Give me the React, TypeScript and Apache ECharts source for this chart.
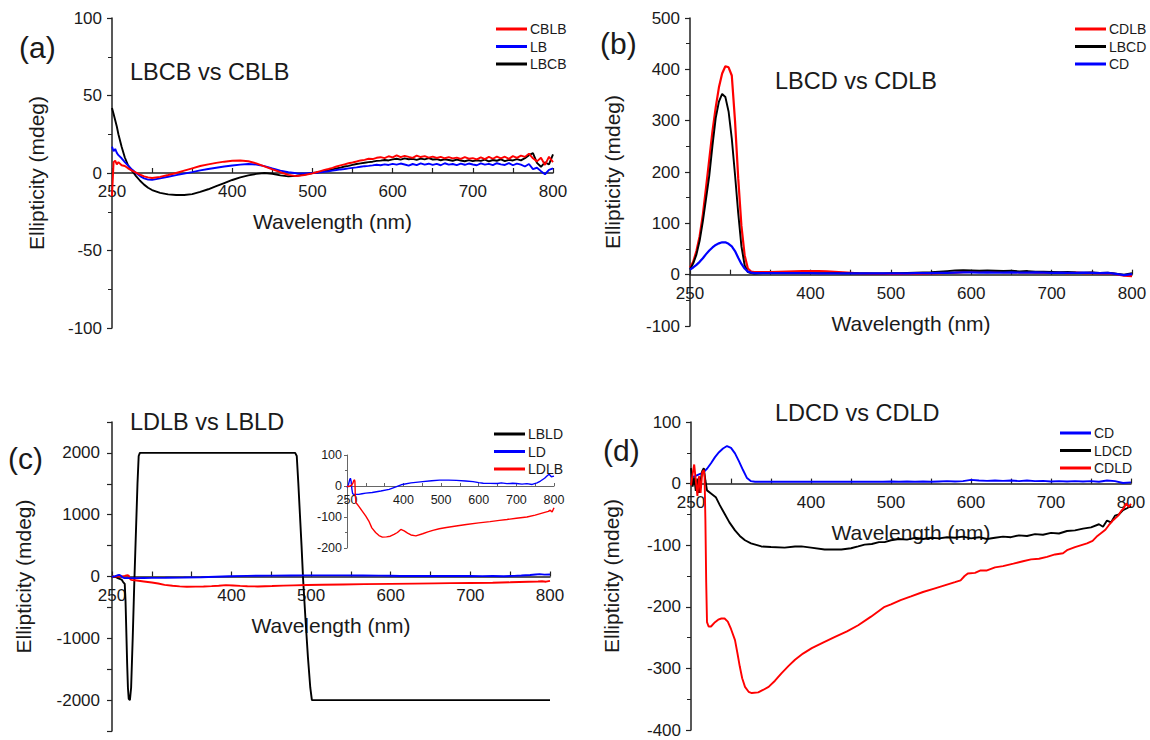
import React, { useEffect, useRef } from "react";
import * as echarts from "echarts";

// ---------- Panel (a): LBCB vs CBLB ----------
const wlA = [250, 252, 254, 256, 258, 262, 266, 270, 275, 280, 285, 290, 295, 300, 310, 320, 330, 340, 350, 360, 370, 380, 390, 400, 410, 420, 430, 440, 450, 460, 470, 480, 490, 500,
  505, 510, 515, 520, 525, 530, 535, 540, 545, 550, 555, 560, 565, 570, 575, 580, 585, 590, 595, 600, 605, 610, 615, 620, 625, 630, 635, 640, 645, 650,
  655, 660, 665, 670, 675, 680, 685, 690, 695, 700, 705, 710, 715, 720, 725, 730, 735, 740, 745, 750, 755, 760, 765, 770, 775, 780, 785, 790, 795, 800];
const cblbA = [-15, 7, 8, 5.5, 7, 5, 4.5, 3, 1.5, 0.3, -1, -2.2, -2.8, -3.2, -2.5, -1.3, 0, 1.5, 3, 4.5, 5.6, 6.5, 7.3, 7.9, 8.1, 7.6, 6.2, 4.3, 2.3, 0.5, -1.2, -2, -1.3, -0.2,
  0.5, 1.2, 2, 2.6, 3.3, 4.2, 4.9, 5.6, 6.3, 6.8, 7.4, 8.1, 8.5, 9.2, 9.0, 9.8, 10.2, 9.6, 10.8, 10.1, 11.4, 10.2, 11.1, 10.4, 9.8, 11.2, 10.3, 10.9, 9.9, 10.6,
  9.7, 10.4, 9.5, 10.2, 9.4, 9.9, 9.1, 10.3, 9.2, 9.6, 8.8, 10.1, 9.0, 10.4, 9.2, 10.6, 9.4, 10.5, 9.1, 10.9, 9.8, 11.2, 10.4, 12.5, 9.5, 7.5, 9.8, 5.2, 10.5, 7];
const lbA = [17, 14, 15.5, 13, 11.5, 9.5, 7, 4.8, 2.2, 0, -2, -3.5, -4.3, -4.4, -3.5, -2.4, -1.4, -0.4, 0.6, 1.7, 2.6, 3.4, 4.2, 4.8, 5.4, 5.8, 5.5, 4.4, 2.9, 1.5, 0.5, -0.2, -0.3, 0,
  0.2, 0.5, 0.8, 1.1, 1.5, 1.9, 2.3, 2.6, 3.0, 3.3, 3.6, 4.0, 4.4, 4.6, 4.9, 5.3, 5.0, 5.6, 5.2, 5.9, 5.4, 6.1, 5.5, 4.8, 5.8, 5.1, 6.2, 5.4, 6.0, 5.2,
  5.9, 5.0, 6.3, 5.4, 5.8, 5.1, 6.0, 5.3, 6.1, 5.5, 5.0, 6.2, 5.4, 5.9, 5.1, 6.3, 5.6, 5.2, 6.4, 5.0, 6.1, 5.4, 4.2, 5.8, 2.5, 3.4, 1.2, -0.8, 2.0, 3];
const lbcbA = [42, 38, 34, 30, 25, 17, 10, 5, 1.5, -2, -5, -7.5, -9.5, -11, -12.8, -13.8, -14.2, -14.2, -13.6, -12.2, -10.5, -8.5, -6.5, -4.5, -2.8, -1.5, -0.6, 0, -0.5, -1.5, -2.2, -1.8, -1, 0,
  0.3, 0.8, 1.2, 1.8, 2.3, 3, 3.5, 4.2, 4.6, 5.2, 5.8, 6.2, 6.6, 7, 7.3, 7.8, 8, 8.4, 8.1, 8.8, 9.2, 8.6, 9.4, 8.9, 9.1, 8.5, 9.3, 8.8, 9.6, 8.7,
  8.9, 8.2, 8.8, 8.4, 7.9, 8.6, 8.1, 7.6, 8.3, 7.7, 8.2, 7.8, 8.6, 7.5, 8.4, 7.9, 8.8, 7.6, 8.5, 8.1, 9, 8.2, 9.6, 11.5, 12.8, 6.5, 4, 6.8, 5.5, 12];

// ---------- Panel (b): LBCD vs CDLB ----------
const wlB = [250, 254, 258, 262, 266, 270, 274, 278, 282, 286, 290, 294, 298, 302, 306, 310, 314, 318, 322, 326, 330,
  340, 350, 360, 370, 380, 390, 400, 410, 420, 430, 440, 450, 460, 470, 480, 490, 500, 510, 520, 530,
  540, 550, 560, 570, 580, 590, 600, 610, 620, 630, 640, 650, 660, 670, 680, 690, 700, 710, 720, 730, 740, 750, 760, 770, 780, 790, 800];
const cdlbB = [14, 25, 46, 75, 117, 170, 225, 280, 326, 365, 392, 406, 404, 388, 300, 188, 95, 38, 12, 6, 5,
  5, 5, 5.5, 6, 6.5, 7, 7, 7, 6.5, 5.5, 4.5, 3.5, 2.5, 2, 1.5, 1.5, 1.5, 1.5, 1.8, 2,
  2.2, 2.5, 3, 3.5, 4, 5, 5.5, 6, 5, 6, 5, 5.5, 4.5, 5, 4, 4.5, 3.5, 4, 3, 4, 3, 3.5, 2.5, 3, 1, -2, -3];
const lbcdB = [10, 22, 39, 66, 104, 148, 193, 252, 305, 337, 352, 346, 318, 265, 195, 120, 55, 18, 5, 3, 2,
  3, 3, 3, 3, 3, 3, 3, 3, 3, 3, 2.5, 2.5, 2.5, 2.5, 2.5, 2.5, 3, 3, 3.5, 4,
  4.5, 5, 6, 7, 8, 8.5, 8, 7.5, 8, 7.5, 7, 7.5, 6.5, 7, 6, 6, 5.5, 5, 5.5, 4.5, 4, 4.5, 3.5, 4, 2, 0, 3];
const cdB = [10, 14, 19, 25, 32, 40, 47, 53, 58, 61, 63, 63, 60, 55, 46, 33, 21, 12, 6, 4, 3,
  3, 3, 3, 3, 3, 3, 3, 2.5, 2.5, 2.5, 2.5, 2.5, 2.5, 2.5, 2.5, 2.5, 2.5, 2.5, 2.5, 3,
  3, 3, 3.5, 3.5, 4, 4.5, 4.5, 4, 4.5, 4, 4, 4.5, 4, 4, 4.5, 4, 3.5, 4, 3.5, 3.5, 4, 3.5, 3, 3.5, 1.5, -1, 1];

// ---------- Panel (c): LDLB vs LBLD (main + inset) ----------
const wlLBLD = [250, 255, 258, 262, 264, 266, 267, 268, 269, 270, 271, 272.5, 274, 276, 278, 280, 282, 283.5, 285, 300, 350, 400, 450, 476, 480,
  482, 484, 486, 488, 490, 493, 496, 499, 501, 550, 600, 650, 700, 750, 800];
const lbldC = [0, -10, -30, -50, -90, -120, -400, -900, -1400, -1800, -1980, -2000, -1800, -1000, -100, 700, 1500, 1950, 2000, 2000, 2000, 2000, 2000, 2000, 2000,
  1950, 1500, 1000, 500, -50, -700, -1300, -1800, -2000, -2000, -2000, -2000, -2000, -2000, -2000];
const wlLD = [250, 254, 257, 259, 261, 263, 265, 268, 275, 281, 290, 300, 317, 340, 362, 380, 397, 420, 451, 475, 496, 520, 541, 565, 585, 600, 612,
  630, 650, 660, 675, 690, 700, 715, 728, 742, 755, 764, 775, 782, 787, 793, 800];
const ldC = [-5, 5, 20, 25, 15, -10, -25, -27, -27, -27, -25, -23, -21, -16, -11, -3, 5, 10, 14, 17, 19, 19, 18, 16, 14, 11, 9,
  8.5, 8, 10, 7.5, 9, 8, 6, 7.5, 5, 10, 16, 25, 33, 38, 30, 32];
const wlLDLB = [250, 254, 258, 262, 266, 268, 270, 271, 272, 274, 278, 281, 290, 300, 308, 316, 326, 335, 344, 355, 365, 375, 384, 393, 402, 411, 420,
  433, 451, 465, 478, 495, 514, 540, 567, 600, 630, 655, 675, 700, 728, 750, 773, 785, 790, 795, 800];
const ldlbC = [0, -2, 0, 2, 10, 18, 20, 15, -30, -55, -60, -65, -80, -97, -113, -135, -150, -160, -165, -164, -162, -156, -150, -140, -145, -152, -158,
  -161, -154, -148, -143, -138, -134, -129, -124, -119, -115, -111, -108, -104, -100, -94, -86, -82, -78, -84, -70];

// ---------- Panel (d): LDCD vs CDLD ----------
const wlCDd = [250, 255, 260, 265, 270, 275, 280, 285, 290, 295, 300, 305, 310, 315, 320, 325, 330,
  340, 350, 360, 370, 380, 390, 400, 410, 420, 430, 440, 450, 460, 470, 480, 490, 500, 510, 520, 530,
  540, 550, 560, 570, 580, 590, 600, 610, 620, 630, 640, 650, 660, 670, 680, 690, 700, 710, 720, 730, 740, 750, 760, 770, 780, 790, 800];
const cdD = [10, 12, 15, 18, 24, 33, 43, 51, 57, 61, 58, 49, 36, 22, 9, 4, 3,
  3, 3, 3, 3, 3, 3, 3, 3, 3, 3, 3, 3, 3, 3, 3, 3, 3.5, 3, 3.5, 3,
  3.5, 3, 3.5, 4, 3.5, 4, 6, 5, 4.5, 5, 4.5, 5, 4, 5, 4, 4.5, 3.5, 4, 3.5, 4, 3.5, 4, 3, 5, 4, 1, 2];
const wlLDCD = [250, 252, 254, 256, 258, 260, 262, 264, 266, 268, 270, 275, 281, 286, 292, 298, 305, 311, 317.5, 325, 338, 350, 367, 380, 388, 400, 417, 438, 450, 459, 467, 476, 485, 492,
  500, 510, 520, 530, 540, 550, 560, 570, 580, 590, 600, 610, 620, 630, 640, 650, 660, 670, 680, 690, 700, 710, 720, 730, 740, 750, 760, 765, 770, 775, 780, 785, 790, 795, 800];
const ldcdD = [25, -5, 10, -12, 8, -15, 5, 20, 25, 5, -11, -16, -22, -35, -49, -63, -76, -85, -92, -97, -102, -103, -104, -102, -102, -104, -107, -107, -105, -102, -99, -98, -95, -95,
  -92, -90, -91, -88, -90, -88, -89, -87, -88, -86, -89, -87, -90, -88, -86, -87, -84, -85, -82, -83, -80, -81, -77, -76, -73, -71, -66, -70, -60, -63, -52, -50, -43, -40, -36];
const wlCDLD = [250, 252, 254, 256, 258, 260, 262, 264, 266, 267, 268, 269, 270, 272, 275, 280, 284, 288, 292, 296, 300, 305, 308, 311, 314, 317.5, 322, 326, 334, 340, 347, 355, 363, 372, 380, 390,
  401, 415, 430, 445, 459, 475, 492, 500, 512, 525, 540, 555, 570, 580, 587, 592, 596, 605, 612, 620, 630, 640, 653, 665, 675, 685, 695, 705, 715, 720, 730, 740, 745,
  752, 758, 762, 768, 772, 778, 784, 788, 791, 794, 797, 800];
const cdldD = [-3, 15, 31, 5, -20, 12, -15, 18, 22, 10, -60, -160, -225, -232, -232, -225, -221, -219, -219, -224, -236, -254, -275, -297, -316, -330, -338, -340, -339, -335, -330, -320, -308, -296, -286, -276,
  -267, -258, -249, -240, -230, -216, -200, -196, -189, -183, -176, -170, -164, -160, -157, -150, -146, -145, -141, -141, -136, -134, -130, -126, -123, -122, -119, -115, -113, -108, -103, -99, -97,
  -93, -85, -81, -75, -68, -59, -52, -44, -40, -32, -38, -33];

// ---------- Axis ranges ----------
const xMin = 250;
const xMax = 800;
const xStep = 50;
const yA = { min: -100, max: 100, step: 50 };
const yB = { min: -100, max: 500, step: 100 };
const yC = { min: -2500, max: 2500, step: 500 };
const yD = { min: -400, max: 100, step: 100 };
const yInset = { min: -200, max: 100, step: 100 };

const RED = "#ff0000";
const BLUE = "#0000ff";
const BLACK = "#000000";
const FONT = '"Liberation Sans", Arial, Helvetica, sans-serif';
const INK = "#1a1a1a";

type Box = { left: number; top: number; width: number; height: number };
const boxes: Box[] = [
  { left: 112, top: 18, width: 441, height: 310 },
  { left: 690, top: 18, width: 442, height: 308 },
  { left: 112, top: 422, width: 438, height: 309 },
  { left: 691, top: 422, width: 440, height: 308 },
  { left: 347, top: 455, width: 207, height: 93 },
];
const ranges = [yA, yB, yC, yD, yInset];

const pairs = (xs: number[], ys: number[]) => xs.map((x, i) => [x, ys[i]]);
const xFmt = (v: number) => (v === 250 || (v % 100 === 0 && v !== 300) ? String(v) : "");

// shift of the x axis from the grid bottom up to the y = 0 line
function zeroOffset(i: number) {
  const b = boxes[i];
  const r = ranges[i];
  const zeroY = b.top + (b.height * r.max) / (r.max - r.min);
  return zeroY - (b.top + b.height);
}

function makeX(grid: number, small = false) {
  return {
    type: "value",
    gridIndex: grid,
    position: "bottom",
    offset: zeroOffset(grid),
    min: xMin,
    max: xMax,
    interval: xStep,
    name: small ? "" : "Wavelength (nm)",
    nameLocation: "middle",
    nameGap: 38,
    nameTextStyle: { fontFamily: FONT, fontSize: 21, color: INK },
    axisLine: { onZero: false, lineStyle: { color: small ? "#666" : "#222", width: small ? 1 : 1.5 } },
    axisTick: { show: true, inside: true, length: small ? 3 : 5, lineStyle: { color: small ? "#666" : "#222", width: small ? 1 : 1.2 } },
    axisLabel: { formatter: xFmt, fontFamily: FONT, fontSize: small ? 12.5 : 17, color: INK, margin: small ? 7 : 10 },
    splitLine: { show: false },
  };
}

function makeY(grid: number, opts: any = {}) {
  const small = !!opts.small;
  const r = ranges[grid];
  return {
    type: "value",
    gridIndex: grid,
    min: r.min,
    max: r.max,
    interval: r.step,
    name: small ? "" : "Ellipticity (mdeg)",
    nameLocation: "middle",
    nameGap: opts.nameGap ?? 64,
    nameTextStyle: { fontFamily: FONT, fontSize: 21, color: INK },
    axisLine: { show: true, onZero: false, lineStyle: { color: small ? "#666" : "#222", width: small ? 1 : 1.5 } },
    axisTick: { show: true, inside: false, length: small ? 3 : 5, lineStyle: { color: small ? "#666" : "#222", width: small ? 1 : 1.2 } },
    minorTick: { show: opts.minor !== false, splitNumber: 2, length: small ? 2 : 4, lineStyle: { color: small ? "#666" : "#222", width: 1 } },
    axisLabel: {
      formatter: opts.fmt || ((v: number) => String(v)),
      fontFamily: FONT,
      fontSize: small ? 12.5 : 17,
      color: INK,
      margin: opts.margin ?? 10,
    },
    splitLine: { show: false },
    minorSplitLine: { show: false },
  };
}

function line(name: string, data: number[][], color: string, grid: number, width = 1.9, z = 2) {
  return {
    type: "line",
    name,
    data,
    xAxisIndex: grid,
    yAxisIndex: grid,
    showSymbol: false,
    symbol: "none",
    z,
    lineStyle: { color, width },
    itemStyle: { color },
  };
}

function legend(left: number, top: number, names: string[]) {
  return {
    left,
    top,
    orient: "vertical",
    icon: "rect",
    itemWidth: 31,
    itemHeight: 3,
    itemGap: 3.5,
    selectedMode: false,
    data: names,
    textStyle: { fontFamily: FONT, fontSize: 14, color: INK, lineHeight: 14, padding: [0, 0, 0, -2] },
  };
}

function label(text: string, x: number, y: number, size: number) {
  return {
    type: "text",
    x,
    y,
    style: { text, fontFamily: FONT, fontSize: size, fill: INK, verticalAlign: "middle", align: "left" },
    z: 10,
  };
}

export default function App() {
  const ref = useRef<HTMLDivElement>(null);
  useEffect(() => {
    if (!ref.current) return;
    const chart = echarts.init(ref.current, null, { renderer: "svg" });
    chart.setOption({
      animation: false,
      backgroundColor: "#ffffff",
      grid: boxes.map((b) => ({ ...b, containLabel: false, outerBoundsMode: "none" })),
      xAxis: [makeX(0), makeX(1), makeX(2), makeX(3), makeX(4, true)],
      yAxis: [
        makeY(0, { nameGap: 65 }),
        makeY(1, { nameGap: 67 }),
        makeY(2, { nameGap: 78, minor: false, margin: 12, fmt: (v: number) => (v % 1000 === 0 && Math.abs(v) < 2500 ? String(v) : "") }),
        makeY(3, { nameGap: 69 }),
        makeY(4, { small: true, margin: 5 }),
      ],
      legend: [
        legend(491, 17, ["CBLB", "LB", "LBCB"]),
        legend(1070, 17, ["CDLB", "LBCD", "CD"]),
        legend(489, 422, ["LBLD", "LD", "LDLB"]),
        legend(1055, 421, ["CD", "LDCD", "CDLD"]),
      ],
      graphic: [
        label("(a)", 19, 47, 30),
        label("(b)", 600, 43, 30),
        label("(c)", 8, 458, 30),
        label("(d)", 603, 450, 30),
        label("LBCB vs CBLB", 130, 72, 23.5),
        label("LBCD vs CDLB", 775, 81, 23.5),
        label("LDLB vs LBLD", 130, 422, 23.5),
        label("LDCD vs CDLD", 775, 413, 23.5),
      ],
      series: [
        line("LBCB", pairs(wlA, lbcbA), BLACK, 0),
        line("LB", pairs(wlA, lbA), BLUE, 0),
        line("CBLB", pairs(wlA, cblbA), RED, 0),

        line("CDLB", pairs(wlB, cdlbB), RED, 1, 2.2),
        line("LBCD", pairs(wlB, lbcdB), BLACK, 1),
        line("CD", pairs(wlB, cdB), BLUE, 1, 2.2),

        line("LBLD", pairs(wlLBLD, lbldC), BLACK, 2),
        line("LDLB", pairs(wlLDLB, ldlbC), RED, 2),
        line("LD", pairs(wlLD, ldC), BLUE, 2),

        line("LD", pairs(wlLD, ldC), BLUE, 4, 1.4),
        line("LDLB", pairs(wlLDLB, ldlbC), RED, 4, 1.4),

        line("CD", pairs(wlCDd, cdD), BLUE, 3),
        line("LDCD", pairs(wlLDCD, ldcdD), BLACK, 3),
        line("CDLD", pairs(wlCDLD, cdldD), RED, 3),
      ],
    });
    return () => chart.dispose();
  }, []);
  return (
    <div
      ref={ref}
      style={{ position: "fixed", left: 0, top: 0, width: 1150, height: 740, background: "#fff" }}
    />
  );
}
